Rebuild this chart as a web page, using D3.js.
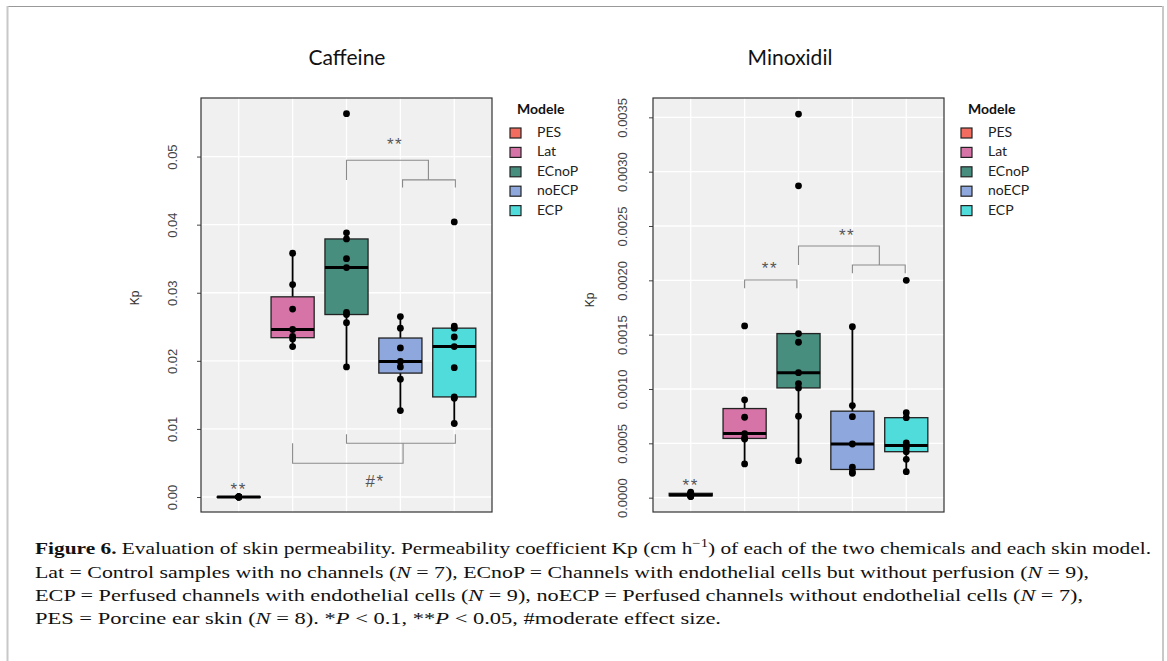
<!DOCTYPE html>
<html>
<head>
<meta charset="utf-8">
<script src="https://cdn.jsdelivr.net/npm/d3@7"></script>
<style>
  body { margin: 0; background: #fff; }
</style>
</head>
<body>
<div id="fig"></div>
<script>
// skin models and their fill colours
const models = ["PES", "Lat", "ECnoP", "noECP", "ECP"];
const modelColors = ["#f26d60", "#d674a8", "#478e7f", "#8ea7dd", "#50dcdb"];

// Caffeine, Kp values per model
const caffeine_PES = [0.00001, 0.00002, 0.00002, 0.00003, 0.00001, 0.00002, 0.00003, 0.00002];
const caffeine_Lat = [0.0221, 0.0232, 0.0236, 0.0246, 0.0276, 0.0312, 0.0358];
const caffeine_ECnoP = [0.0191, 0.0256, 0.0268, 0.0271, 0.0337, 0.0350, 0.0379, 0.0388, 0.0563];
const caffeine_noECP = [0.0127, 0.0173, 0.0191, 0.0199, 0.0219, 0.0248, 0.0265];
const caffeine_ECP = [0.0108, 0.0145, 0.0147, 0.0190, 0.0221, 0.0235, 0.0248, 0.0251, 0.0404];
const caffeineTicks = [0, 0.01, 0.02, 0.03, 0.04, 0.05];

// Minoxidil, Kp values per model
const minox_PES = [0.00001, 0.00001, 0.00002, 0.00002, 0.00003, 0.00004, 0.00004, 0.00005];
const minox_Lat = [0.00031, 0.00054, 0.00055, 0.00059, 0.00074, 0.00090, 0.00158];
const minox_ECnoP = [0.00034, 0.00075, 0.00101, 0.00105, 0.00115, 0.00143, 0.00151, 0.00287, 0.00353];
const minox_noECP = [0.000224, 0.000239, 0.00028, 0.000494, 0.000745, 0.000847, 0.001573];
const minox_ECP = [0.000239, 0.000353, 0.000423, 0.00046, 0.00048, 0.000505, 0.000736, 0.000782, 0.0020];
const minoxTicks = [0, 0.0005, 0.001, 0.0015, 0.002, 0.0025, 0.003, 0.0035];

// significance brackets: [from, to, y of bar, y of leg end] (x in category steps)
const caffeineBrackets = [[2, 3.52, 0.04946, 0.04657], [3.04, 4.02, 0.04657, 0.04544],
                          [1, 3.05, 0.00495, 0.00789], [2, 4.02, 0.00789, 0.00921]];
const caffeineLabels = [[2.9, 0.0524, "**"], [2.53, 0.0030, "#*"], [0, 0.0018, "**"]];
const minoxBrackets = [[1, 1.97, 0.002003, 0.001927], [2, 3.5, 0.002316, 0.002141],
                       [3, 3.98, 0.002141, 0.002065]];
const minoxLabels = [[1.47, 0.00215, "**"], [2.9, 0.00246, "**"], [0, 0.000154, "**"]];

const W = 1167, H = 661;
const sans = "'Liberation Sans', Arial, sans-serif";
const soft = "Lato, 'Open Sans', sans-serif";
const serif = "'Liberation Serif', 'Times New Roman', serif";

const svg = d3.select("#fig").append("svg")
    .attr("width", W)
    .attr("height", H);

// page frame
svg.append("line").attr("x1", 7).attr("x2", 1163).attr("y1", 6.5).attr("y2", 6.5)
    .attr("stroke", "#999").attr("stroke-width", 1.2);
svg.append("line").attr("x1", 7.5).attr("x2", 7.5).attr("y1", 6).attr("y2", H)
    .attr("stroke", "#c8c8c8").attr("stroke-width", 2);
svg.append("line").attr("x1", 1163).attr("x2", 1163).attr("y1", 6).attr("y2", H)
    .attr("stroke", "#c8c8c8").attr("stroke-width", 2);

function draw_panel(p) {
    let g = svg.append("g");
    let x = d3.scalePoint().domain(models).range([p.left, p.right]).padding(0.7);
    let step = x.step();
    let y = d3.scaleLinear().domain(p.domain).range([p.bottom, p.top]);
    let bw = step * 0.8;

    g.append("rect")
        .attr("x", p.left).attr("y", p.top)
        .attr("width", p.right - p.left).attr("height", p.bottom - p.top)
        .attr("fill", "#f0f0f0");
    // grid
    g.append("g").selectAll("line").data(p.ticks).enter().append("line")
        .attr("x1", p.left).attr("x2", p.right)
        .attr("y1", d => y(d)).attr("y2", d => y(d))
        .attr("stroke", "#fff").attr("stroke-width", 1.3);
    g.append("g").selectAll("line").data(models).enter().append("line")
        .attr("y1", p.top).attr("y2", p.bottom)
        .attr("x1", d => x(d)).attr("x2", d => x(d))
        .attr("stroke", "#fff").attr("stroke-width", 1.3);

    // y axis
    let axis = g.append("g")
        .attr("transform", `translate(${p.left},0)`)
        .call(d3.axisLeft(y).tickValues(p.ticks).tickFormat(d3.format(p.fmt)).tickSize(4).tickPadding(3));
    axis.select(".domain").remove();
    axis.selectAll(".tick line").attr("stroke", "#444");
    axis.selectAll(".tick text")
        .attr("x", null).attr("dy", null)
        .attr("text-anchor", "middle")
        .attr("transform", `translate(${p.tickX - p.left},0) rotate(-90)`)
        .attr("dy", "0.35em")
        .style("font-size", "13px")
        .style("font-family", sans)
        .attr("fill", "#444");
    g.append("text")
        .attr("transform", `translate(${p.kpX},${p.kpY}) rotate(-90)`)
        .attr("text-anchor", "middle").attr("dy", "0.35em")
        .style("font-family", sans)
        .style("font-size", "12px").attr("fill", "#333")
        .text("Kp");

    // title
    g.append("text")
        .attr("x", p.titleX).attr("y", 65)
        .attr("text-anchor", "middle")
        .style("font-family", soft)
        .style("font-size", "21px").attr("fill", "#111")
        .text(p.title);

    // brackets
    let pos = i => x(models[0]) + i * step;
    g.append("g").selectAll("path").data(p.brackets).enter().append("path")
        .attr("d", d => `M${pos(d[0])},${y(d[3])}V${y(d[2])}H${pos(d[1])}V${y(d[3])}`)
        .attr("fill", "none").attr("stroke", "#8a8a8a").attr("stroke-width", 1.1);
    g.append("g").selectAll("text").data(p.labels).enter().append("text")
        .attr("x", d => pos(d[0])).attr("y", d => y(d[1]))
        .attr("text-anchor", "middle").attr("dy", "0.6em")
        .style("font-family", sans)
        .style("font-size", "17px").style("letter-spacing", "1.5px").attr("fill", "#555")
        .text(d => d[2]);

    // boxes
    models.forEach((m, i) => {
        let vals = p.values[i].slice().sort(d3.ascending);
        let q1 = d3.quantile(vals, 0.25), med = d3.quantile(vals, 0.5), q3 = d3.quantile(vals, 0.75);
        let iqr = q3 - q1;
        let inside = vals.filter(v => v >= q1 - 1.5 * iqr && v <= q3 + 1.5 * iqr);
        let lo = d3.min(inside), hi = d3.max(inside);
        let cx = x(m);
        let bg = g.append("g");
        bg.append("line").attr("x1", cx).attr("x2", cx)
            .attr("y1", y(lo)).attr("y2", y(hi))
            .attr("stroke", "#000").attr("stroke-width", 1.8);
        bg.append("rect")
            .attr("x", cx - bw / 2).attr("width", bw)
            .attr("y", y(q3)).attr("height", Math.max(y(q1) - y(q3), 0.5))
            .attr("fill", modelColors[i])
            .attr("stroke", "#222").attr("stroke-width", 1.3);
        bg.append("line").attr("x1", cx - bw / 2).attr("x2", cx + bw / 2)
            .attr("y1", y(med)).attr("y2", y(med))
            .attr("stroke", "#000").attr("stroke-width", 3);
        bg.selectAll("circle").data(vals).enter().append("circle")
            .attr("cx", cx).attr("cy", d => y(d)).attr("r", 3.4)
            .attr("fill", "#000");
    });

    g.append("rect")
        .attr("x", p.left).attr("y", p.top)
        .attr("width", p.right - p.left).attr("height", p.bottom - p.top)
        .attr("fill", "none").attr("stroke", "#333").attr("stroke-width", 1.2);
}

function draw_legend(lx, ly) {
    let g = svg.append("g").attr("transform", `translate(${lx},${ly})`);
    g.append("text").attr("x", 7).attr("y", 0)
        .style("font-family", soft)
        .style("font-size", "14px").style("font-weight", "bold").attr("fill", "#111")
        .text("Modele");
    let rows = g.selectAll("g.row").data(models).enter().append("g")
        .attr("class", "row")
        .attr("transform", (d, i) => `translate(0,${14 + i * 19.4})`);
    rows.append("rect").attr("width", 11).attr("height", 10)
        .attr("fill", (d, i) => modelColors[i])
        .attr("stroke", "#222").attr("stroke-width", 1.2);
    rows.append("text").attr("x", 27).attr("y", 4).attr("dy", "0.35em")
        .style("font-family", soft)
        .style("font-size", "14px").attr("fill", "#222")
        .text(d => d);
}

draw_panel({
    title: "Caffeine", titleX: 347,
    left: 201, right: 492, top: 98, bottom: 512,
    domain: [-0.0022, 0.0586], ticks: caffeineTicks, fmt: ".2f",
    tickX: 172, kpX: 135, kpY: 298,
    values: [caffeine_PES, caffeine_Lat, caffeine_ECnoP, caffeine_noECP, caffeine_ECP],
    brackets: caffeineBrackets, labels: caffeineLabels
});
draw_panel({
    title: "Minoxidil", titleX: 790,
    left: 653, right: 944, top: 98, bottom: 512,
    domain: [-0.000132, 0.003678], ticks: minoxTicks, fmt: ".4f",
    tickX: 622, kpX: 590, kpY: 300,
    values: [minox_PES, minox_Lat, minox_ECnoP, minox_noECP, minox_ECP],
    brackets: minoxBrackets, labels: minoxLabels
});
draw_legend(510, 114);
draw_legend(961, 114);

// caption
const cap = svg.append("g");
function cap_line(yy, len, parts) {
    let t = cap.append("text").attr("x", 35).attr("y", yy)
        .style("font-family", serif)
        .style("font-size", "17.5px").attr("fill", "#111")
        .attr("textLength", len).attr("lengthAdjust", "spacingAndGlyphs");
    parts.forEach(pp => {
        let s = t.append("tspan").text(pp[0]);
        if (pp[1] === "b") s.style("font-weight", "bold");
        if (pp[1] === "i") s.style("font-style", "italic");
        if (pp[1] === "sup") s.attr("dy", -7).style("font-size", "12px");
        if (pp[1] === "down") s.attr("dy", 7);
    });
}
cap_line(554, 1116, [["Figure 6.", "b"], [" Evaluation of skin permeability. Permeability coefficient Kp (cm h"],
    ["\u22121", "sup"], [") of each of the two chemicals and each skin model.", "down"]]);
cap_line(578, 1054, [["Lat = Control samples with no channels ("], ["N", "i"], [" = 7), ECnoP = Channels with endothelial cells but without perfusion ("],
    ["N", "i"], [" = 9),"]]);
cap_line(601, 1048, [["ECP = Perfused channels with endothelial cells ("], ["N", "i"], [" = 9), noECP = Perfused channels without endothelial cells ("],
    ["N", "i"], [" = 7),"]]);
cap_line(624, 686, [["PES = Porcine ear skin ("], ["N", "i"], [" = 8). *"], ["P", "i"], [" < 0.1, **"], ["P", "i"], [" < 0.05, #moderate effect size."]]);
</script>
</body>
</html>
